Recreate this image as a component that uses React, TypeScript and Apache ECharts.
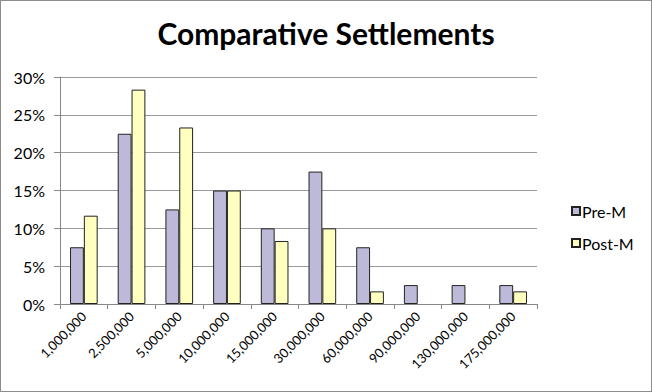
import React, { useEffect, useRef } from "react";
import * as echarts from "echarts";

const categories = ["1,000,000", "2,500,000", "5,000,000", "10,000,000", "15,000,000", "30,000,000", "60,000,000", "90,000,000", "130,000,000", "175,000,000"];
const preM = [7.5, 22.5, 12.5, 15, 10, 17.5, 7.5, 2.5, 2.5, 2.5];
const postM = [11.67, 28.33, 23.33, 15, 8.33, 10, 1.67, 0, 0, 1.67];
const yTicks = { min: 0, max: 30, interval: 5 };

const toItems = (vals: number[]) =>
  vals.map((v) => (v === 0 ? { value: v, itemStyle: { borderWidth: 0, opacity: 0 } } : v));

export default function App() {
  const ref = useRef<HTMLDivElement>(null);
  useEffect(() => {
    const chart = echarts.init(ref.current!, null, { renderer: "svg" });
    const font = "Lato, 'Open Sans', sans-serif";
    chart.setOption({
      animation: false,
      title: {
        text: "Comparative Settlements",
        left: "center",
        top: 12,
        textStyle: { fontFamily: font, fontWeight: "bold", fontSize: 30, color: "#000" },
      },
      legend: {
        orient: "vertical",
        left: 565,
        top: 197,
        itemWidth: 8,
        itemHeight: 8,
        itemGap: 16,
        icon: "rect",
        textStyle: { fontFamily: font, fontSize: 16, color: "#000", padding: [0, 0, 0, -3] },
        data: ["Pre-M", "Post-M"],
      },
      grid: { left: 59, right: 114, top: 76, bottom: 87 },
      xAxis: {
        type: "category",
        data: categories,
        axisLine: { lineStyle: { color: "#888" } },
        axisTick: { show: true, length: 5, lineStyle: { color: "#888" } },
        axisLabel: { rotate: 45, interval: 0, fontFamily: font, fontSize: 13, color: "#000", margin: 10 },
      },
      yAxis: {
        type: "value",
        min: yTicks.min,
        max: yTicks.max,
        interval: yTicks.interval,
        axisLine: { show: true, lineStyle: { color: "#888" } },
        axisTick: { show: true, length: 6, lineStyle: { color: "#888" } },
        splitLine: { lineStyle: { color: "#9a9a9a" } },
        axisLabel: { formatter: "{value}%", fontFamily: font, fontSize: 16, color: "#000", margin: 15 },
      },
      series: [
        {
          name: "Pre-M",
          type: "bar",
          data: toItems(preM),
          barGap: "0%",
          barCategoryGap: "42%",
          itemStyle: { color: "#BDBAD9", borderColor: "#222", borderWidth: 1 },
        },
        {
          name: "Post-M",
          type: "bar",
          data: toItems(postM),
          barGap: "0%",
          barCategoryGap: "42%",
          itemStyle: { color: "#FFFFC0", borderColor: "#222", borderWidth: 1 },
        },
      ],
    });
    return () => chart.dispose();
  }, []);
  return (
    <div
      style={{
        position: "fixed",
        left: 0,
        top: 0,
        width: 652,
        height: 392,
        boxSizing: "border-box",
        border: "1px solid #8c8c8c",
        background: "#fff",
      }}
    >
      <div ref={ref} style={{ width: 650, height: 390 }} />
    </div>
  );
}
